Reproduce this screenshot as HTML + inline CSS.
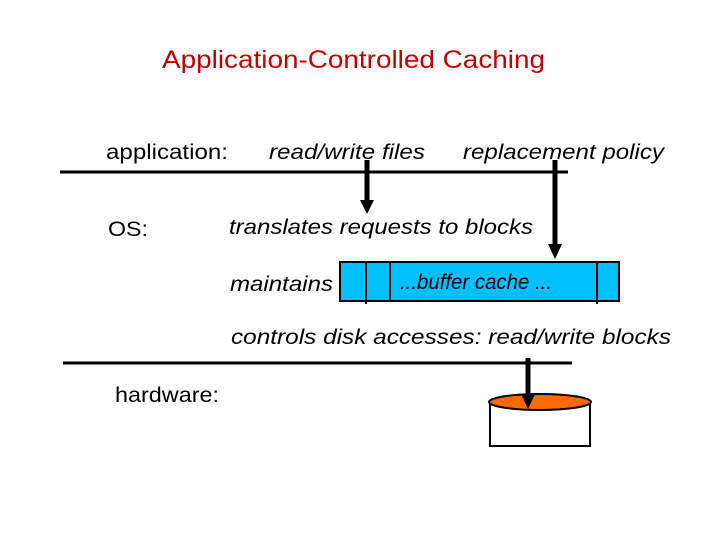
<!DOCTYPE html>
<html><head><style>
body{margin:0;background:#fff;}
svg text{font-family:"Liberation Sans",sans-serif;}
</style></head><body>
<svg width="720" height="540" viewBox="0 0 720 540" xmlns="http://www.w3.org/2000/svg">
<text x="162" y="68" font-size="25" fill="#c00000" textLength="383" lengthAdjust="spacingAndGlyphs">Application-Controlled Caching</text>
<text x="106" y="159" font-size="21" textLength="122" lengthAdjust="spacingAndGlyphs">application:</text>
<text x="269" y="159" font-size="21" font-style="italic" textLength="156" lengthAdjust="spacingAndGlyphs">read/write files</text>
<text x="463" y="159" font-size="21" font-style="italic" textLength="201" lengthAdjust="spacingAndGlyphs">replacement policy</text>
<text x="108" y="236" font-size="21" textLength="40" lengthAdjust="spacingAndGlyphs">OS:</text>
<text x="229" y="234" font-size="21" font-style="italic" textLength="304" lengthAdjust="spacingAndGlyphs">translates requests to blocks</text>
<text x="230" y="291" font-size="21" font-style="italic" textLength="103" lengthAdjust="spacingAndGlyphs">maintains</text>
<text x="231" y="344" font-size="21" font-style="italic" textLength="440" lengthAdjust="spacingAndGlyphs">controls disk accesses:  read/write blocks</text>
<text x="115" y="402" font-size="21" textLength="104" lengthAdjust="spacingAndGlyphs">hardware:</text>
<line x1="60" y1="172" x2="568" y2="172" stroke="#000" stroke-width="3"/>
<line x1="63" y1="363" x2="572" y2="363" stroke="#000" stroke-width="3"/>
<rect x="340" y="262" width="279" height="39" fill="#00bfff" stroke="#000" stroke-width="2"/>
<line x1="366" y1="262" x2="366" y2="304" stroke="#000" stroke-width="2"/>
<line x1="390" y1="262" x2="390" y2="301" stroke="#000" stroke-width="2"/>
<line x1="597" y1="262" x2="597" y2="304" stroke="#000" stroke-width="2"/>
<text x="400" y="289" font-size="21" font-style="italic" textLength="152" lengthAdjust="spacingAndGlyphs">...buffer cache ...</text>
<rect x="490" y="402" width="100" height="44" fill="#fff" stroke="#000" stroke-width="2"/>
<ellipse cx="540" cy="402" rx="51" ry="8" fill="#ff6a00" stroke="#000" stroke-width="2"/>
<g fill="#000" stroke="#000">
<line x1="367" y1="160" x2="367" y2="200" stroke-width="5"/>
<polygon points="360,200 374,200 367,214" stroke="none"/>
<line x1="555" y1="160" x2="555" y2="245" stroke-width="5"/>
<polygon points="548,244 562,244 555,259" stroke="none"/>
<line x1="528" y1="358" x2="528" y2="395" stroke-width="5"/>
<polygon points="521,394 535,394 528,409" stroke="none"/>
</g>
</svg>
</body></html>
